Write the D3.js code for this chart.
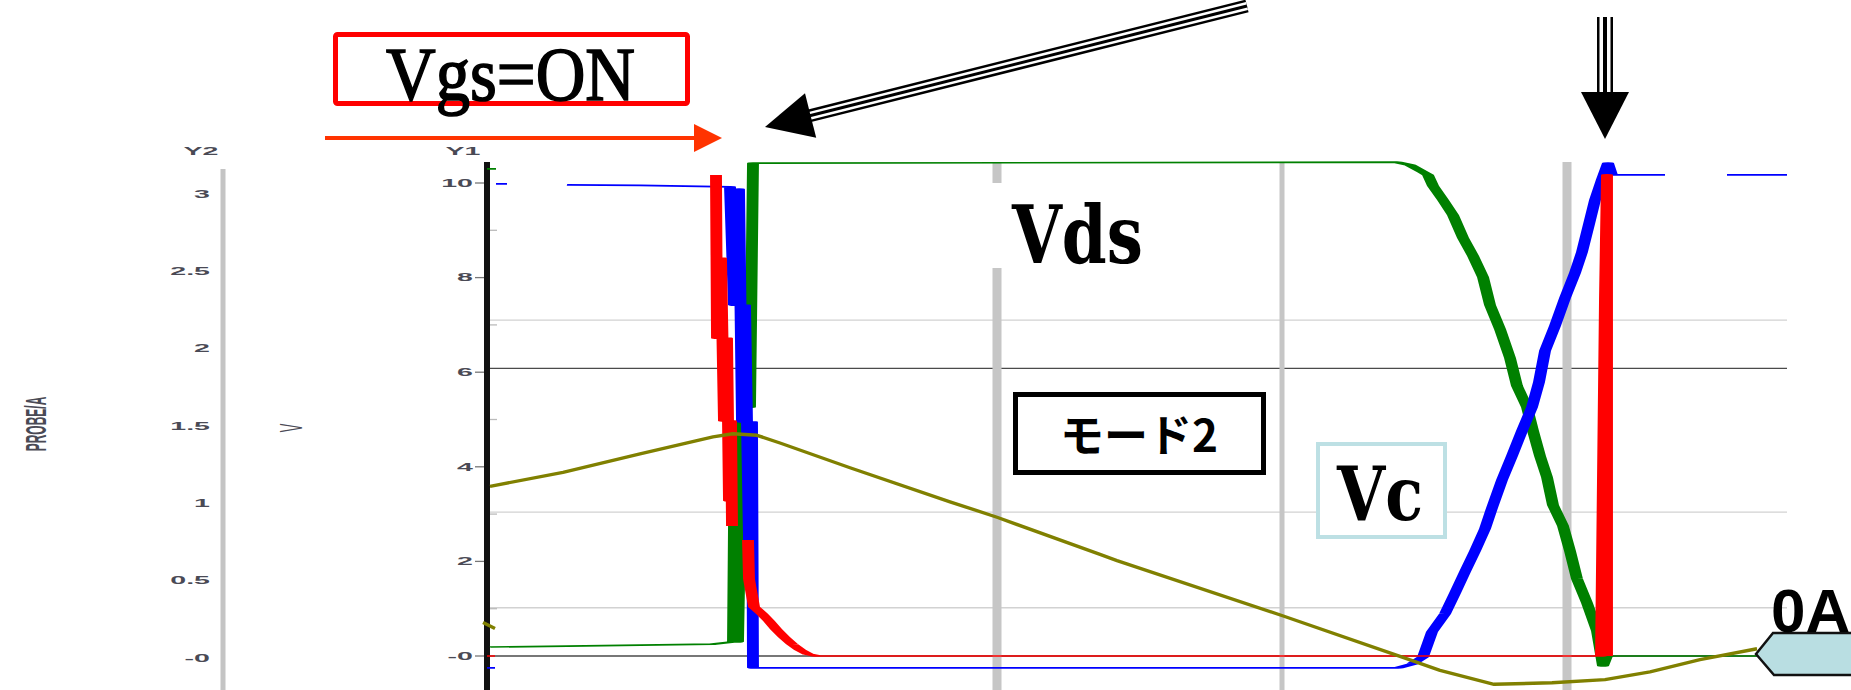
<!DOCTYPE html>
<html>
<head>
<meta charset="utf-8">
<script src="https://cdn.jsdelivr.net/npm/d3@7"></script>
<style>
  html, body { margin: 0; padding: 0; background: #fff; overflow: hidden; }
</style>
</head>
<body>
<div id="chart"></div>
<script>
// ---- data ----
// time axis in µs, Y1 in volts, Y2 (PROBE) in amps
const timeDomain = [0, 13];
const y1Domain = [0, 10];
const y2Domain = [0, 3];

const y1Ticks = [0, 2, 4, 6, 8, 10];
const y1TickLabels = ["-0", "2", "4", "6", "8", "10"];
const y1MinorTicks = [1, 3, 5, 7, 9];
const y2Ticks = [0, 0.5, 1, 1.5, 2, 2.5, 3];
const y2TickLabels = ["-0", "0.5", "1", "1.5", "2", "2.5", "3"];

const gridLevels = [1.02, 3.04, 7.1];
const refLevels = [0, 6.08];
const cursorTimes = [5.1, 7.95, 10.8];

// green: Vds  (null = break in the trace)
const vdsTrace = [
  [0.0, 10.3], [0.09, 10.3], null,
  [0.03, 0.19], [0.8, 0.21], [2.26, 0.25], [2.46, 0.3], [2.47, 2.79], [2.51, 0.3],
  [2.55, 4.95], [2.57, 2.03], [2.61, 7.72], [2.63, 5.26], [2.66, 10.42],
  [9.1, 10.44], [9.23, 10.38], [9.36, 10.23], [9.41, 10.17], [9.46, 9.94],
  [9.56, 9.64], [9.66, 9.32], [9.76, 8.84], [9.86, 8.46], [9.96, 8.01],
  [10.03, 7.42], [10.13, 6.91], [10.23, 6.3], [10.3, 5.71], [10.4, 5.26],
  [10.46, 4.76], [10.53, 4.23], [10.6, 3.78], [10.66, 3.19], [10.76, 2.75],
  [10.83, 2.22], [10.9, 1.63], [11.0, 1.12], [11.1, 0.53], [11.16, -0.21],
  [11.2, 0.0], [12.73, 0.0]
];

// blue: Vc
const vcTrace = [
  [0.0, -0.25], [0.08, -0.25], null,
  [0.09, 9.98], [0.2, 9.98], null,
  [0.8, 9.96], [1.53, 9.95], [2.43, 9.92], [2.47, 7.42], [2.52, 9.87],
  [2.55, 4.95], [2.58, 7.42], [2.62, 2.45], [2.65, 4.95], [2.66, -0.25],
  [2.7, -0.25], [9.11, -0.25], [9.25, -0.17], [9.36, -0.02], [9.45, 0.51],
  [9.58, 0.89], [9.68, 1.33], [9.78, 1.78], [9.88, 2.22], [9.98, 2.69],
  [10.05, 3.13], [10.15, 3.72], [10.25, 4.23], [10.35, 4.76], [10.45, 5.26],
  [10.52, 5.79], [10.58, 6.45], [10.68, 6.98], [10.78, 7.57], [10.88, 8.1],
  [10.95, 8.54], [11.02, 9.13], [11.08, 9.64], [11.15, 10.08], [11.21, 10.42],
  [11.25, 10.17], [11.78, 10.17], null,
  [12.4, 10.17], [13.0, 10.17]
];

// red: gate
const gateTrace = [
  [0.0, 0.0], [0.08, 0.0], null,
  [2.29, 10.17], [2.3, 6.72], [2.34, 8.41], [2.37, 4.97], [2.4, 6.72],
  [2.42, 3.28], [2.44, 4.97], [2.45, 2.75], null,
  [2.61, 2.45], [2.62, 1.63], [2.67, 1.04], [2.75, 0.89], [2.82, 0.74],
  [2.89, 0.57], [2.97, 0.4], [3.05, 0.25], [3.13, 0.13], [3.21, 0.04],
  [3.3, 0.0], [11.14, 0.0], [11.18, 7.57], [11.2, 10.17], [11.2, 0.0]
];

// olive: PROBE current on Y2
const probeTrace = [
  [-0.04, 0.23], [0.08, 0.19], null,
  [0.03, 1.11], [0.76, 1.2], [1.53, 1.32], [2.26, 1.43], [2.46, 1.45],
  [2.7, 1.44], [2.93, 1.39], [3.63, 1.23], [4.63, 1.01], [5.1, 0.91],
  [6.13, 0.67], [6.3, 0.63], [7.97, 0.27], [9.13, 0.01], [9.53, -0.08],
  [10.07, -0.17], [10.65, -0.16], [11.18, -0.14], [11.63, -0.09],
  [12.13, -0.01], [12.7, 0.06]
];

// ---- layout ----
const width = 1851, height = 690;
const plot = { left: 487, right: 1787, top: 162, bottom: 690 };
const stretch = 7; // the screenshot was stretched sideways, so vertical strokes look fat

const svg = d3
  .select("#chart")
  .append("svg")
  .attr("width", width)
  .attr("height", height)
  .style("font-family", "'Liberation Sans', Arial, sans-serif");

svg.append("rect").attr("width", width).attr("height", height).attr("fill", "#fff");

const x = d3.scaleLinear().domain(timeDomain).range([plot.left, plot.right]);
const y1 = d3.scaleLinear().domain(y1Domain).range([656, 183]);
const y2 = d3.scaleLinear().domain(y2Domain).range([658, 194]);

// light grid + dark reference lines
svg
  .selectAll(".grid")
  .data(gridLevels)
  .join("line")
  .attr("x1", plot.left + 3)
  .attr("x2", plot.right)
  .attr("y1", (d) => y1(d))
  .attr("y2", (d) => y1(d))
  .attr("stroke", "#d2d2d2")
  .attr("stroke-width", 1.3);

svg
  .selectAll(".ref")
  .data(refLevels)
  .join("line")
  .attr("x1", plot.left)
  .attr("x2", plot.right)
  .attr("y1", (d) => y1(d))
  .attr("y2", (d) => y1(d))
  .attr("stroke", "#4a4a4a")
  .attr("stroke-width", 1.3);

// cursor bars
const cursorWidths = [9, 5, 9];
svg
  .selectAll(".cursor")
  .data(cursorTimes)
  .join("line")
  .attr("x1", (d) => x(d))
  .attr("x2", (d) => x(d))
  .attr("y1", plot.top)
  .attr("y2", plot.bottom)
  .attr("stroke", "#c6c6c6")
  .attr("stroke-width", (d, i) => cursorWidths[i]);

// stretched label helper
function stretchedText(g, tx, ty, str, anchor, sx) {
  return g
    .append("text")
    .attr("transform", `translate(${tx},${ty}) scale(${sx},1)`)
    .attr("text-anchor", anchor)
    .attr("dominant-baseline", "central")
    .attr("font-size", 11)
    .attr("font-weight", "bold")
    .attr("fill", "#4a4a55")
    .text(str);
}

// Y2 axis (left, grey)
const y2Axis = svg.append("g");
y2Axis
  .append("line")
  .attr("x1", 223)
  .attr("x2", 223)
  .attr("y1", 169)
  .attr("y2", height)
  .attr("stroke", "#c4c4c4")
  .attr("stroke-width", 5);
y2Ticks.forEach((t, i) => stretchedText(y2Axis, 210, y2(t), y2TickLabels[i], "end", 2.6));
stretchedText(y2Axis, 201, 151, "Y2", "middle", 2.6);

// axis titles (rotated)
svg
  .append("text")
  .attr("transform", "translate(36,424) scale(2.4,1) rotate(-90)")
  .attr("text-anchor", "middle")
  .attr("dominant-baseline", "central")
  .attr("font-size", 12)
  .attr("font-weight", "bold")
  .attr("fill", "#4a4a55")
  .text("PROBE/A");
svg
  .append("text")
  .attr("transform", "translate(291,428) scale(2.4,1) rotate(-90)")
  .attr("text-anchor", "middle")
  .attr("dominant-baseline", "central")
  .attr("font-size", 13)
  .attr("fill", "#4a4a55")
  .text("V");

// Y1 axis (black)
const y1Axis = svg.append("g");
y1Axis
  .selectAll(".major")
  .data(y1Ticks)
  .join("line")
  .attr("x1", 475)
  .attr("x2", plot.left)
  .attr("y1", (d) => y1(d))
  .attr("y2", (d) => y1(d))
  .attr("stroke", "#777")
  .attr("stroke-width", 1.3);
y1Axis
  .selectAll(".minor")
  .data(y1MinorTicks)
  .join("line")
  .attr("x1", plot.left)
  .attr("x2", plot.left + 10)
  .attr("y1", (d) => y1(d))
  .attr("y2", (d) => y1(d))
  .attr("stroke", "#bbb")
  .attr("stroke-width", 1.3);
y1Axis
  .append("line")
  .attr("x1", plot.left)
  .attr("x2", plot.left)
  .attr("y1", plot.top)
  .attr("y2", height)
  .attr("stroke", "#111")
  .attr("stroke-width", 6);
y1Ticks.forEach((t, i) => stretchedText(y1Axis, 473, y1(t), y1TickLabels[i], "end", 2.6));
stretchedText(y1Axis, 463, 151, "Y1", "middle", 2.6);

// Y1 traces, drawn in a horizontally stretched group
const traceG = svg
  .append("g")
  .attr("transform", `translate(${plot.left},0) scale(${stretch},1)`);
const xs = d3
  .scaleLinear()
  .domain(timeDomain)
  .range([0, (plot.right - plot.left) / stretch]);

const lineY1 = d3
  .line()
  .defined((d) => d !== null)
  .x((d) => xs(d[0]))
  .y((d) => y1(d[1]));

const traces = [
  { data: vdsTrace, color: "#008000" },
  { data: vcTrace, color: "#0000ff" },
  { data: gateTrace, color: "#ff0000" },
];

traceG
  .selectAll(".trace")
  .data(traces)
  .join("path")
  .attr("d", (d) => lineY1(d.data))
  .attr("fill", "none")
  .attr("stroke", (d) => d.color)
  .attr("stroke-width", 1.7)
  .attr("stroke-linejoin", "round");

// PROBE current on Y2, plain line
const lineY2 = d3
  .line()
  .defined((d) => d !== null)
  .x((d) => x(d[0]))
  .y((d) => y2(d[1]));
svg
  .append("path")
  .attr("d", lineY2(probeTrace))
  .attr("fill", "none")
  .attr("stroke", "#808000")
  .attr("stroke-width", 3.4)
  .attr("stroke-linejoin", "round");

// ---- annotations ----
const serifBold = "'DejaVu Serif', 'Liberation Serif', serif";

// Vds label on a white patch
svg.append("rect").attr("x", 988).attr("y", 183).attr("width", 180).attr("height", 85).attr("fill", "#fff");
svg
  .append("text")
  .attr("x", 1012)
  .attr("y", 263)
  .attr("font-family", serifBold)
  .attr("font-weight", "bold")
  .attr("font-size", 80)
  .attr("textLength", 131)
  .attr("lengthAdjust", "spacingAndGlyphs")
  .text("Vds");

// モード2 box
svg
  .append("rect")
  .attr("x", 1015.5)
  .attr("y", 394.5)
  .attr("width", 248)
  .attr("height", 78)
  .attr("fill", "#fff")
  .attr("stroke", "#000")
  .attr("stroke-width", 5);
svg
  .append("text")
  .attr("x", 1139)
  .attr("y", 452)
  .attr("text-anchor", "middle")
  .attr("font-family", "'Noto Sans CJK JP', sans-serif")
  .attr("font-weight", "bold")
  .attr("font-size", 44)
  .text("モード2");

// Vc box
svg
  .append("rect")
  .attr("x", 1318)
  .attr("y", 444)
  .attr("width", 127)
  .attr("height", 93)
  .attr("fill", "#fff")
  .attr("stroke", "#bde0e4")
  .attr("stroke-width", 4);
svg
  .append("text")
  .attr("x", 1337)
  .attr("y", 520)
  .attr("font-family", serifBold)
  .attr("font-weight", "bold")
  .attr("font-size", 74)
  .attr("textLength", 86)
  .attr("lengthAdjust", "spacingAndGlyphs")
  .text("Vc");

// Vgs=ON box
svg
  .append("rect")
  .attr("x", 335.5)
  .attr("y", 34.5)
  .attr("width", 352)
  .attr("height", 69)
  .attr("rx", 2)
  .attr("fill", "#fff")
  .attr("stroke", "#ff0000")
  .attr("stroke-width", 5);
svg
  .append("text")
  .attr("x", 386)
  .attr("y", 100)
  .attr("font-family", "'Liberation Serif', 'Times New Roman', serif")
  .attr("font-size", 76)
  .attr("textLength", 249)
  .attr("lengthAdjust", "spacingAndGlyphs")
  .attr("stroke", "#000")
  .attr("stroke-width", 1.6)
  .text("Vgs=ON");

// orange arrow under the box
svg
  .append("line")
  .attr("x1", 325)
  .attr("x2", 697)
  .attr("y1", 138)
  .attr("y2", 138)
  .attr("stroke", "#ff3300")
  .attr("stroke-width", 4);
svg
  .append("polygon")
  .attr("points", "694,124 722,138 694,152")
  .attr("fill", "#ff3300");

// triple-line arrows
function tripleArrow(x1, y1p, x2, y2p, headLen, headHalf, outer, gap, inner) {
  const dx = x2 - x1, dy = y2p - y1p;
  const len = Math.hypot(dx, dy);
  const ux = dx / len, uy = dy / len;
  const bx = x2 - ux * headLen, by = y2p - uy * headLen;
  const g = svg.append("g");
  [
    [outer, "#000"],
    [gap, "#fff"],
    [inner, "#000"],
  ].forEach(([w, c]) => {
    g.append("line")
      .attr("x1", x1)
      .attr("y1", y1p)
      .attr("x2", bx + ux * 2)
      .attr("y2", by + uy * 2)
      .attr("stroke", c)
      .attr("stroke-width", w);
  });
  g.append("polygon")
    .attr(
      "points",
      `${x2},${y2p} ${bx - uy * headHalf},${by + ux * headHalf} ${bx + uy * headHalf},${by - ux * headHalf}`
    )
    .attr("fill", "#000");
}
tripleArrow(1247, 6, 765, 127, 47, 23, 13, 8, 3);
tripleArrow(1605, 17, 1605, 139, 47, 24, 16, 11, 4);

// 0A marker at the right edge
svg
  .append("polygon")
  .attr("points", "1756,654 1773,633 1856,633 1856,675 1774,675")
  .attr("fill", "#b9dee2")
  .attr("stroke", "#111")
  .attr("stroke-width", 2.5);
svg
  .append("text")
  .attr("x", 1771)
  .attr("y", 632)
  .attr("font-family", "'Liberation Sans', Arial, sans-serif")
  .attr("font-weight", "bold")
  .attr("font-size", 62)
  .text("0A");
</script>
</body>
</html>
